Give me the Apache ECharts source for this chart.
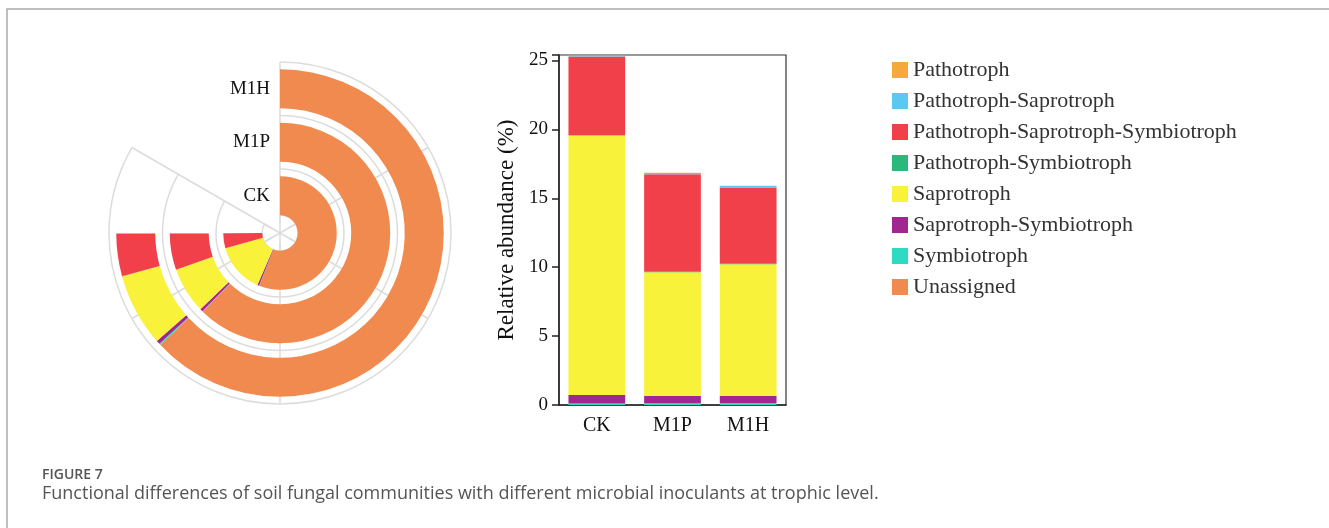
<!DOCTYPE html>
<html>
<head>
<meta charset="utf-8">
<script src="https://cdn.jsdelivr.net/npm/echarts@6/dist/echarts.min.js"></script>
<style>
  html, body { margin: 0; padding: 0; background: #fff; }
  #main { width: 1329px; height: 528px; }
</style>
</head>
<body>
<div id="main"></div>
<script>
// samples
const groups = ["CK", "M1P", "M1H"];

// relative abundance (%) per trophic mode
const pathotroph = [0.02, 0.02, 0.02];
const pathSap = [0.05, 0.1, 0.12];
const pathSapSym = [5.72, 7.07, 5.53];
const pathSym = [0.02, 0.03, 0.03];
const saprotroph = [18.83, 8.99, 9.57];
const sapSym = [0.63, 0.53, 0.5];
const symbiotroph = [0.1, 0.12, 0.15];
const unassigned = [74.63, 83.14, 84.08];

const legendNames = [
  "Pathotroph",
  "Pathotroph-Saprotroph",
  "Pathotroph-Saprotroph-Symbiotroph",
  "Pathotroph-Symbiotroph",
  "Saprotroph",
  "Saprotroph-Symbiotroph",
  "Symbiotroph",
  "Unassigned",
];
const yTicks = [0, 5, 10, 15, 20, 25];

// stack order, bottom first
const layers = [
  { name: "Unassigned", data: unassigned, color: "#F08A4F" },
  { name: "Symbiotroph", data: symbiotroph, color: "#2EDAC2" },
  { name: "Saprotroph-Symbiotroph", data: sapSym, color: "#A2268F" },
  { name: "Saprotroph", data: saprotroph, color: "#F8F23B" },
  { name: "Pathotroph-Symbiotroph", data: pathSym, color: "#2DB87B" },
  { name: "Pathotroph-Saprotroph-Symbiotroph", data: pathSapSym, color: "#F2404B" },
  { name: "Pathotroph-Saprotroph", data: pathSap, color: "#5BC8F0" },
  { name: "Pathotroph", data: pathotroph, color: "#F5A93A" },
];

const serif = "Liberation Serif";
const grey = "#dcdcdc";
const angleMax = 100 / 0.9; // 100 % fills 270 of the 300 degrees
const angleStep = angleMax / 5;

const angleAxisBase = {
  type: "value",
  min: 0,
  max: angleMax,
  interval: angleStep,
  startAngle: 90,
  endAngle: -210,
  axisLine: { show: false },
  axisTick: { show: false },
  axisLabel: { show: false },
  splitLine: { show: true, lineStyle: { color: grey, width: 1.5 } },
};

const series = [];
layers.forEach((l) => {
  series.push({
    name: l.name,
    type: "bar",
    coordinateSystem: "polar",
    polarIndex: 0,
    stack: "ring",
    barWidth: 39,
    data: l.data,
    itemStyle: { color: l.color },
    emphasis: { disabled: true },
  });
});
layers.slice(1).forEach((l) => {
  series.push({
    name: l.name,
    type: "bar",
    xAxisIndex: 0,
    yAxisIndex: 0,
    stack: "bars",
    barCategoryGap: "25%",
    data: l.data,
    itemStyle: { color: l.color },
    emphasis: { disabled: true },
  });
});

const chart = echarts.init(document.getElementById("main"));

chart.setOption({
  animation: false,
  backgroundColor: "#fff",
  polar: [
    { center: [280, 233], radius: [10.5, 171] },
    { center: [280, 233], radius: [0, 18] },
  ],
  angleAxis: [
    Object.assign({ polarIndex: 0 }, angleAxisBase),
    Object.assign({ polarIndex: 1 }, angleAxisBase, {
      axisLine: { show: true, lineStyle: { color: grey, width: 1.5 } },
    }),
  ],
  radiusAxis: [
    {
      polarIndex: 0,
      type: "category",
      data: groups,
      angle: 90,
      axisLine: { show: false },
      axisTick: { show: false },
      axisLabel: {
        fontFamily: serif,
        fontSize: 19,
        color: "#111",
        margin: 10,
        padding: [10, 0, 0, 0],
      },
      splitLine: {
        show: true,
        lineStyle: { color: ["rgba(0,0,0,0)", grey, grey, grey], width: 1.5 },
      },
    },
    {
      polarIndex: 1,
      type: "value",
      show: false,
    },
  ],
  grid: {
    left: 559,
    top: 55,
    width: 227,
    height: 350,
    show: true,
    borderColor: "#333",
    borderWidth: 1.2,
  },
  xAxis: {
    type: "category",
    data: groups,
    axisLine: { lineStyle: { color: "#222", width: 1.5 } },
    axisTick: { alignWithLabel: true, length: 6, lineStyle: { color: "#222", width: 1.5 } },
    axisLabel: { fontFamily: serif, fontSize: 20, color: "#111", margin: 11 },
  },
  yAxis: {
    type: "value",
    min: 0,
    max: 25.4,
    interval: 5,
    name: "Relative abundance (%)",
    nameLocation: "middle",
    nameGap: 41,
    nameTextStyle: { fontFamily: serif, fontSize: 23, color: "#111" },
    axisLine: { show: true, lineStyle: { color: "#222", width: 1.5 } },
    axisTick: { show: true, length: 7, lineStyle: { color: "#222", width: 1.5 } },
    axisLabel: {
      fontFamily: serif,
      fontSize: 19,
      color: "#111",
      margin: 11,
      formatter: (v) => (yTicks.indexOf(v) >= 0 ? String(v) : ""),
    },
    splitLine: { show: false },
  },
  legend: {
    data: legendNames,
    orient: "vertical",
    left: 887,
    top: 54,
    icon: "rect",
    itemWidth: 16,
    itemHeight: 16,
    itemGap: 9,
    selectedMode: false,
    textStyle: { fontFamily: serif, fontSize: 22, color: "#333" },
  },
  graphic: [
    {
      type: "polyline",
      shape: { points: [[7, 528], [7, 9], [1329, 9]] },
      style: { stroke: "#aaa", lineWidth: 1.5, fill: null },
      silent: true,
    },
    {
      type: "text",
      left: 42,
      top: 468,
      style: {
        text: "FIGURE 7",
        font: "600 14px 'Open Sans'",
        fill: "#555",
      },
    },
    {
      type: "text",
      left: 42,
      top: 485,
      style: {
        text: "Functional differences of soil fungal communities with different microbial inoculants at trophic level.",
        font: "18px 'Open Sans'",
        fill: "#555",
      },
    },
  ],
  series: series,
});
</script>
</body>
</html>
